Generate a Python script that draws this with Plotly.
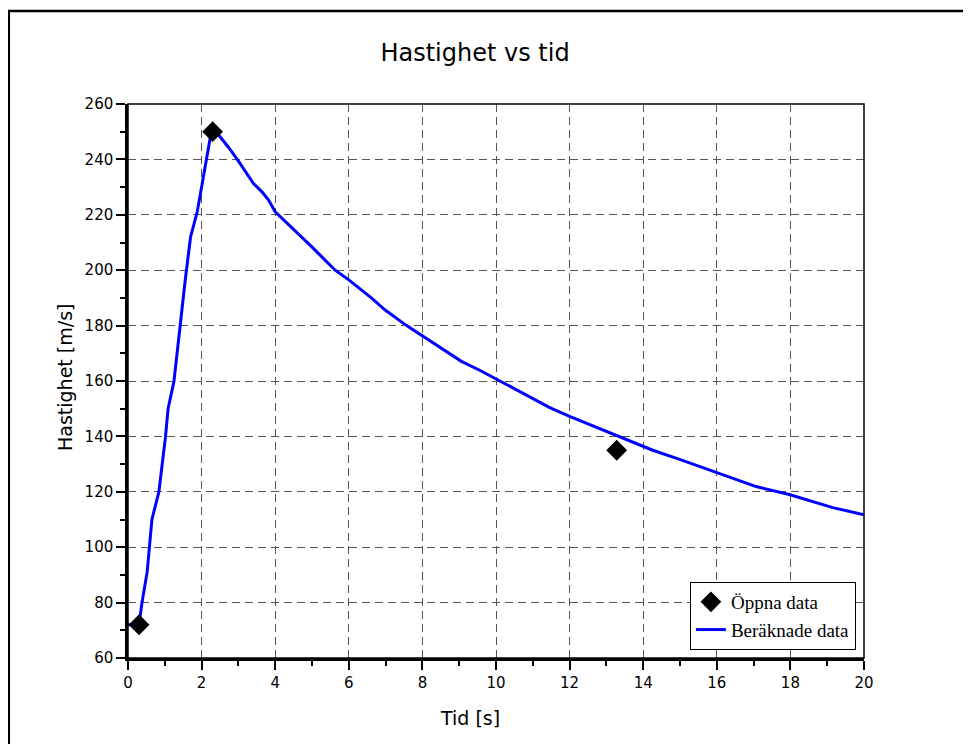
import plotly.graph_objects as go

# Measured data ("Öppna data")
t_meas = [0.3, 2.3, 13.28]
v_meas = [72, 250, 135]

# Calculated data ("Beräknade data")
t_calc = [0, 0.3, 0.38, 0.52, 0.65, 0.84, 1.02, 1.09, 1.25, 1.38, 1.47, 1.56,
          1.70, 1.88, 2.0, 2.13, 2.25, 2.36, 2.73, 3.02, 3.41, 3.64, 3.82, 4.0,
          4.63, 4.99, 5.63, 6.0, 6.62, 6.98, 7.57, 7.96, 8.43, 9.06, 9.57, 10.0,
          10.74, 11.46, 12.0, 12.64, 13.36, 14.26, 14.99, 15.97, 17.07, 17.97,
          19.15, 20.0]
v_calc = [72, 72, 80, 91, 110, 120, 140, 150, 160, 176, 185, 197,
          212, 221, 230, 240, 249, 250.5, 244.4, 239, 231.3, 228.3, 225.3, 221.1,
          213.3, 208.5, 200, 196.5, 189.9, 185.7, 180, 176.6, 172.5, 167.1, 163.8, 160.8,
          155.6, 150.4, 147.2, 143.8, 140, 135, 131.7, 127.1, 121.9, 119,
          114.3, 111.7]

title_text = "Hastighet vs tid"
x_title = "Tid [s]"
y_title = "Hastighet [m/s]"

# page has an 8px body margin, so the figure starts at (8, 8)
OFF = 8
W, H = 971 - OFF, 744 - OFF
ML, MT = 128 - OFF, 104 - OFF
PW, PH = 736, 554
MR, MB = W - ML - PW, H - MT - PH


def px_x(page_x):
    return (page_x - 128) / PW


def px_y(page_y):
    return (658 - page_y) / PH


SANS = "DejaVu Sans"

fig = go.Figure()
fig.add_trace(go.Scatter(
    x=t_calc, y=v_calc, mode="lines", name="Beräknade data",
    line=dict(color="#0000FF", width=3)))
fig.add_trace(go.Scatter(
    x=t_meas, y=v_meas, mode="markers", name="Öppna data",
    marker=dict(symbol="diamond", size=16, color="black")))

axis_font = dict(family=SANS, size=15, color="black")
grid_dash = "8px,5px"

fig.update_layout(
    width=W, height=H,
    margin=dict(l=ML, r=MR, t=MT, b=MB),
    paper_bgcolor="white", plot_bgcolor="white",
    title=dict(text=title_text, x=px_x(475), xref="paper", xanchor="center",
               y=1 - (53 - OFF) / H, yanchor="middle",
               font=dict(family=SANS, size=24, color="black")),
    showlegend=True,
    legend=dict(x=0.989, y=0.0144, xanchor="right", yanchor="bottom",
                bgcolor="white", bordercolor="black", borderwidth=1,
                traceorder="reversed",
                font=dict(family="Liberation Serif, Times New Roman", size=19, color="black")),
    xaxis=dict(range=[0, 20], dtick=2, tick0=0,
               showline=True, linecolor="black", linewidth=2.5, mirror=False,
               ticks="outside", ticklen=9, tickwidth=1.5, tickcolor="black",
               minor=dict(dtick=1, ticks="outside", ticklen=5, tickwidth=1.5,
                          tickcolor="black", showgrid=False),
               showgrid=True, gridcolor="#555555", griddash=grid_dash, gridwidth=1,
               zeroline=False, tickfont=axis_font),
    yaxis=dict(range=[60, 260], dtick=20, tick0=60,
               showline=True, linecolor="black", linewidth=2.5, mirror=False,
               ticks="outside", ticklen=9, tickwidth=1.5, tickcolor="black",
               minor=dict(dtick=10, ticks="outside", ticklen=5, tickwidth=1.5,
                          tickcolor="black", showgrid=False),
               showgrid=True, gridcolor="#555555", griddash=grid_dash, gridwidth=1,
               zeroline=False, tickfont=axis_font),
    annotations=[
        dict(text=x_title, xref="paper", yref="paper", x=px_x(470), y=px_y(718),
             xanchor="center", yanchor="middle", showarrow=False,
             font=dict(family=SANS, size=19, color="black")),
        dict(text=y_title, xref="paper", yref="paper", x=px_x(65), y=px_y(377),
             xanchor="center", yanchor="middle", showarrow=False, textangle=-90,
             font=dict(family=SANS, size=19, color="black")),
    ],
    shapes=[
        # top/right frame of plot area
        dict(type="rect", xref="paper", yref="paper", x0=0, y0=0, x1=1, y1=1,
             line=dict(color="black", width=1.5), layer="above"),
        # outer figure frame
        dict(type="rect", xref="paper", yref="paper",
             x0=(0.8 - ML) / PW, x1=(W + 20 - ML) / PW,
             y0=(MT + PH - (H + 20)) / PH, y1=(MT + PH - (11 - OFF)) / PH,
             line=dict(color="black", width=2.5)),
    ],
)

fig.write_html("out.html")
